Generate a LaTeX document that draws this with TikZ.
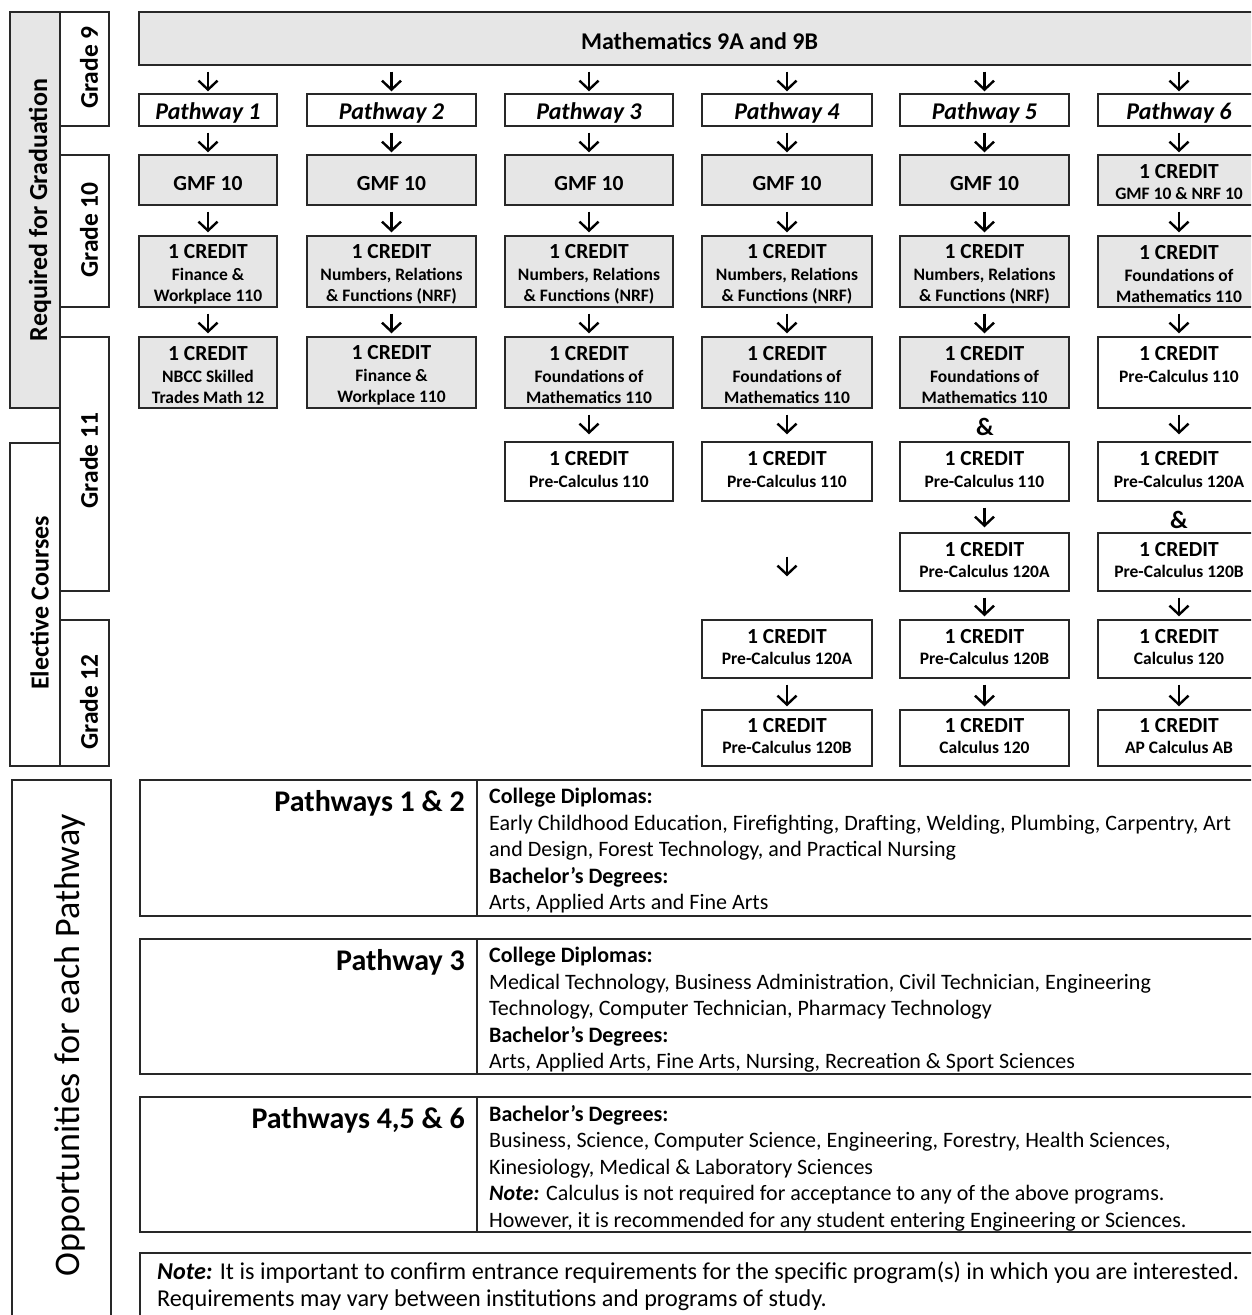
\documentclass[tikz,border=0pt]{standalone}
\usepackage{fontspec}
\setmainfont{Carlito}
\usetikzlibrary{arrows.meta}
\definecolor{boxgray}{RGB}{230,230,230}
\definecolor{linegray}{RGB}{40,40,40}
\newcommand\fsz[2]{\fontsize{#1}{#2}\selectfont}
\newcommand\bigc{\fsz{21.5}{22}\bfseries}
\newcommand\crA[2]{{\bigc 1 CREDIT}\\#1\\#2}
\newcommand\crB[1]{{\bigc 1 CREDIT}\\#1}
% name, left, right, top, bottom, box style, text style, text, text shift down
\newcommand\cbox[9]{%
  \node[bx,#6,minimum width={#3-#2},minimum height={#5-#4}] (#1) at ({(#2+#3)/2},{(#4+#5)/2}) {};
  \node[bxt,#7] (#1t) at ([yshift={-(#9)}]#1.center) {#8};}
\begin{document}
\begin{tikzpicture}[x=1pt,y=-1pt,
  bx/.style={draw=linegray,line width=1.4pt,inner sep=0pt},
  bxt/.style={inner sep=0pt,align=center,text=black,font=\fsz{17.5}{21.5}\bfseries},
  grayfill/.style={fill=boxgray},
  pathlbl/.style={font=\fsz{24}{28}\bfseries\itshape},
  single/.style={font=\bigc},
  gradetxt/.style={rotate=90,inner sep=0pt,font=\fsz{25.5}{28}\bfseries},
  sidetxt/.style={rotate=90,inner sep=0pt,font=\fsz{26}{28}\bfseries},
  arr/.style={line width=2.4pt,-{Straight Barb[length=9pt,width=19pt]},shorten <=6pt,shorten >=3pt},
  amp/.style={inner sep=0pt,font=\fsz{25}{28}\bfseries},
  headtxt/.style={anchor=base east,inner sep=0pt,font=\fsz{30}{34}\bfseries},
  bodytxt/.style={anchor=north west,align=left,inner sep=0pt,font=\fsz{22}{26.5}}
]
\useasboundingbox (0,0) rectangle (1251,1315);
\clip (0,0) rectangle (1251,1315);

% ---------- left side labels ----------
\cbox{reqbox}{10}{60}{12}{408}{grayfill}{}{}{0}
\cbox{elecbox}{10}{60}{443}{766}{}{}{}{0}
\cbox{g9}{60}{109}{12}{126}{}{}{}{0}
\cbox{g10}{60}{109}{155}{307}{}{}{}{0}
\cbox{g11}{60}{109}{337}{591}{}{}{}{0}
\cbox{g12}{60}{109}{620}{766}{}{}{}{0}
\node[sidetxt] (reqtxt) at (40,210) {Required for Graduation};
\node[sidetxt] (electxt) at (39.5,603) {Elective Courses};
\node[gradetxt] (g9t) at (89,67.5) {Grade 9};
\node[gradetxt] (g10t) at (89,230) {Grade 10};
\node[gradetxt] (g11t) at (89,460.5) {Grade 11};
\node[gradetxt] (g12t) at (89,702) {Grade 12};

% ---------- main box ----------
\cbox{main}{139}{1260}{12}{65}{grayfill}{font=\fsz{24}{28}\bfseries}{Mathematics 9A and 9B}{3}

% ---------- pathway labels ----------
\cbox{p10}{139}{277}{94}{126}{}{pathlbl}{Pathway 1}{3}
\cbox{p20}{307}{476}{94}{126}{}{pathlbl}{Pathway 2}{3}
\cbox{p30}{505}{673}{94}{126}{}{pathlbl}{Pathway 3}{3}
\cbox{p40}{702}{872}{94}{126}{}{pathlbl}{Pathway 4}{3}
\cbox{p50}{900}{1069}{94}{126}{}{pathlbl}{Pathway 5}{3}
\cbox{p60}{1098}{1260}{94}{126}{}{pathlbl}{Pathway 6}{3}

% ---------- GMF row ----------
\cbox{p11}{139}{277}{155}{205}{grayfill}{single}{GMF 10}{4}
\cbox{p21}{307}{476}{155}{205}{grayfill}{single}{GMF 10}{4}
\cbox{p31}{505}{673}{155}{205}{grayfill}{single}{GMF 10}{4}
\cbox{p41}{702}{872}{155}{205}{grayfill}{single}{GMF 10}{4}
\cbox{p51}{900}{1069}{155}{205}{grayfill}{single}{GMF 10}{4}
\cbox{p61}{1098}{1260}{155}{205}{grayfill}{}{\crB{GMF 10 \& NRF 10}}{2}

% ---------- second Grade 10 row ----------
\cbox{p12}{139}{277}{236}{307}{grayfill}{}{\crA{Finance \&}{Workplace 110}}{3}
\cbox{p22}{307}{476}{236}{307}{grayfill}{}{\crA{Numbers, Relations}{\& Functions (NRF)}}{3}
\cbox{p32}{505}{673}{236}{307}{grayfill}{}{\crA{Numbers, Relations}{\& Functions (NRF)}}{3}
\cbox{p42}{702}{872}{236}{307}{grayfill}{}{\crA{Numbers, Relations}{\& Functions (NRF)}}{3}
\cbox{p52}{900}{1069}{236}{307}{grayfill}{}{\crA{Numbers, Relations}{\& Functions (NRF)}}{3}
\cbox{p62}{1098}{1260}{236}{307}{grayfill}{}{\crA{Foundations of}{Mathematics 110}}{3}

% ---------- first Grade 11 row ----------
\cbox{p13}{139}{277}{337}{408}{grayfill}{}{\crA{NBCC Skilled}{Trades Math 12}}{3}
\cbox{p23}{307}{476}{337}{408}{grayfill}{}{\crA{Finance \&}{Workplace 110}}{3}
\cbox{p33}{505}{673}{337}{408}{grayfill}{}{\crA{Foundations of}{Mathematics 110}}{3}
\cbox{p43}{702}{872}{337}{408}{grayfill}{}{\crA{Foundations of}{Mathematics 110}}{3}
\cbox{p53}{900}{1069}{337}{408}{grayfill}{}{\crA{Foundations of}{Mathematics 110}}{3}
\cbox{p63}{1098}{1260}{337}{408}{}{}{\crA{Pre-Calculus 110}{\vphantom{Mathematics 110}}}{3}

% ---------- elective rows ----------
\cbox{p34}{505}{673}{442}{501}{}{}{\crB{Pre-Calculus 110}}{-2}
\cbox{p44}{702}{872}{442}{501}{}{}{\crB{Pre-Calculus 110}}{-2}
\cbox{p54}{900}{1069}{442}{501}{}{}{\crB{Pre-Calculus 110}}{-2}
\cbox{p64}{1098}{1260}{442}{501}{}{}{\crB{Pre-Calculus 120A}}{-2}

\cbox{p55}{900}{1069}{533}{591}{}{}{\crB{Pre-Calculus 120A}}{-2}
\cbox{p65}{1098}{1260}{533}{591}{}{}{\crB{Pre-Calculus 120B}}{-2}

\cbox{p46}{702}{872}{620}{678}{}{}{\crB{Pre-Calculus 120A}}{-2}
\cbox{p56}{900}{1069}{620}{678}{}{}{\crB{Pre-Calculus 120B}}{-2}
\cbox{p66}{1098}{1260}{620}{678}{}{}{\crB{Calculus 120}}{-2}

\cbox{p47}{702}{872}{710}{766}{}{}{\crB{Pre-Calculus 120B}}{-2}
\cbox{p57}{900}{1069}{710}{766}{}{}{\crB{Calculus 120}}{-2}
\cbox{p67}{1098}{1260}{710}{766}{}{}{\crB{AP Calculus AB}}{-2}

% ---------- "&" joins ----------
\node[amp] (amp5) at (985,427) {\&};
\node[amp] (amp6) at (1179,520) {\&};

% ---------- arrows ----------
\foreach \c in {1,...,6}{
  \draw[arr,shorten >=2pt] (p\c0.north |- main.south) -- (p\c0.north);
  \draw[arr,shorten >=2pt] (p\c0) -- (p\c1);
  \draw[arr] (p\c1) -- (p\c2);
  \draw[arr] (p\c2) -- (p\c3);
}
\draw[arr,shorten >=7pt] (p33) -- (p34);
\draw[arr,shorten >=7pt] (p43) -- (p44);
\draw[arr,shorten >=7pt] (p63) -- (p64);
\draw[arr,shorten <=55pt,shorten >=43pt] (p44) -- (p46);
\draw[arr] (p46) -- (p47);
\draw[arr,shorten >=5pt] (p54) -- (p55);
\draw[arr] (p55) -- (p56);
\draw[arr] (p56) -- (p57);
\draw[arr] (p65) -- (p66);
\draw[arr] (p66) -- (p67);

% ---------- opportunities section ----------
\cbox{opp}{12}{111}{780}{1340}{}{}{}{0}
\node[rotate=90,inner sep=0pt,font=\fsz{36}{40}] (opptxt) at (69.5,1045) {Opportunities for each Pathway};

\cbox{b1l}{140}{477}{780}{916}{}{}{}{0}
\cbox{b1r}{477}{1262}{780}{916}{}{}{}{0}
\cbox{b2l}{140}{477}{939}{1074}{}{}{}{0}
\cbox{b2r}{477}{1262}{939}{1074}{}{}{}{0}
\cbox{b3l}{140}{477}{1097}{1232}{}{}{}{0}
\cbox{b3r}{477}{1262}{1097}{1232}{}{}{}{0}
\cbox{note}{140}{1262}{1253}{1340}{}{}{}{0}

\node[headtxt] (h1) at (465,811) {Pathways 1 \& 2};
\node[headtxt] (h2) at (465,970) {Pathway 3};
\node[headtxt] (h3) at (465,1128) {Pathways 4,5 \& 6};

\node[bodytxt] (t1) at (489,788) {\textbf{College Diplomas:}\\
Early Childhood Education, Firefighting, Drafting, Welding, Plumbing, Carpentry, Art\\
and Design, Forest Technology, and Practical Nursing\\
\textbf{Bachelor’s Degrees:}\\
Arts, Applied Arts and Fine Arts};

\node[bodytxt] (t2) at (489,947) {\textbf{College Diplomas:}\\
Medical Technology, Business Administration, Civil Technician, Engineering\\
Technology, Computer Technician, Pharmacy Technology\\
\textbf{Bachelor’s Degrees:}\\
Arts, Applied Arts, Fine Arts, Nursing, Recreation \& Sport Sciences};

\node[bodytxt] (t3) at (489,1105) {\textbf{Bachelor’s Degrees:}\\
Business, Science, Computer Science, Engineering, Forestry, Health Sciences,\\
Kinesiology, Medical \& Laboratory Sciences\\
\textbf{\itshape Note:} Calculus is not required for acceptance to any of the above programs.\\
However, it is recommended for any student entering Engineering or Sciences.};

\node[bodytxt,font=\fsz{24.2}{27}] (t4) at (157,1261.5) {\textbf{\itshape Note:} It is important to confirm entrance requirements for the specific program(s) in which you are interested.\\
Requirements may vary between institutions and programs of study.};
\end{tikzpicture}
\end{document}
